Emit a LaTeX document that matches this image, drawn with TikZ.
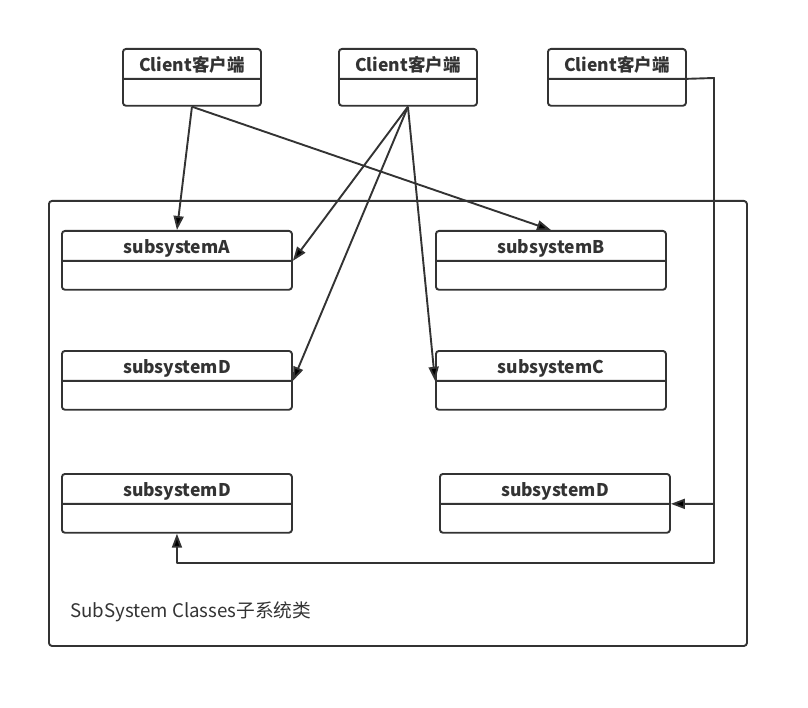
\documentclass[tikz,border=0pt]{standalone}
\usepackage{fontspec}
\setmainfont{Noto Sans CJK SC}
\usetikzlibrary{arrows.meta,positioning,shapes.multipart}
\definecolor{linegray}{HTML}{333333}
\newcommand\boxtitle[2]{\rule[-#2pt]{0pt}{28pt}#1}

\begin{document}
\begin{tikzpicture}[x=1pt, y=-1pt, line join=round,
  classbox/.style={rectangle split, rectangle split parts=2, draw=linegray, line width=1.9pt,
    rounded corners=3pt, inner xsep=0pt, inner ysep=0pt, anchor=north west,
    font=\bfseries\fontsize{17.5}{20}\selectfont, text=linegray},
  sub/.style={classbox, minimum width=230pt},
  client/.style={classbox, minimum width=138pt},
  conn/.style={draw=linegray, line width=1.9pt, -{Triangle[length=14pt,width=10pt]}}]
\useasboundingbox (0,0) rectangle (808,708);
% clients
\node[client] (cl1) at (122,48) {\boxtitle{Client客户端}{6}\nodepart{second}\rule{0pt}{25pt}};
\node[client] (cl2) at (338,48) {\boxtitle{Client客户端}{6}\nodepart{second}\rule{0pt}{25pt}};
\node[client] (cl3) at (547,48) {\boxtitle{Client客户端}{6}\nodepart{second}\rule{0pt}{25pt}};
% subsystem frame
\node[draw=linegray, line width=1.9pt, rounded corners=3pt, minimum width=698pt, minimum height=445pt,
  anchor=north west, inner sep=0pt] (sys) at (48,200) {};
\node[anchor=base west, inner sep=0pt, text=linegray, font=\fontsize{18.7}{22}\selectfont] (syslabel) at (70,617)
  {SubSystem Classes子系统类};
% subsystems
\node[sub] (subA)  at (61,230)  {\boxtitle{subsystemA}{6}\nodepart{second}\rule{0pt}{27pt}};
\node[sub] (subB)  at (435,230) {\boxtitle{subsystemB}{6}\nodepart{second}\rule{0pt}{27pt}};
\node[sub] (subD2) at (61,350)  {\boxtitle{subsystemD}{6}\nodepart{second}\rule{0pt}{27pt}};
\node[sub] (subC)  at (435,350) {\boxtitle{subsystemC}{6}\nodepart{second}\rule{0pt}{27pt}};
\node[sub] (subD3) at (61,473)  {\boxtitle{subsystemD}{6}\nodepart{second}\rule{0pt}{27pt}};
\node[sub] (subD4) at (439,473) {\boxtitle{subsystemD}{6}\nodepart{second}\rule{0pt}{27pt}};
% connectors
\coordinate (rt) at (714,78);
\coordinate (rb) at (714,563);
\draw[conn] (cl1.south) -- (subA.north);
\draw[conn] (cl1.south) -- (subB.north);
\draw[conn] (cl2.south) -- (subA.text split east);
\draw[conn] (cl2.south) -- (subD2.text split east);
\draw[conn] (cl2.south) -- (subC.text split west);
\draw[conn] (cl3.text split east) -- (rt) |- (subD4.text split east);
\draw[conn] (rt) -- (rb) -| (subD3.south);
\end{tikzpicture}
\end{document}
